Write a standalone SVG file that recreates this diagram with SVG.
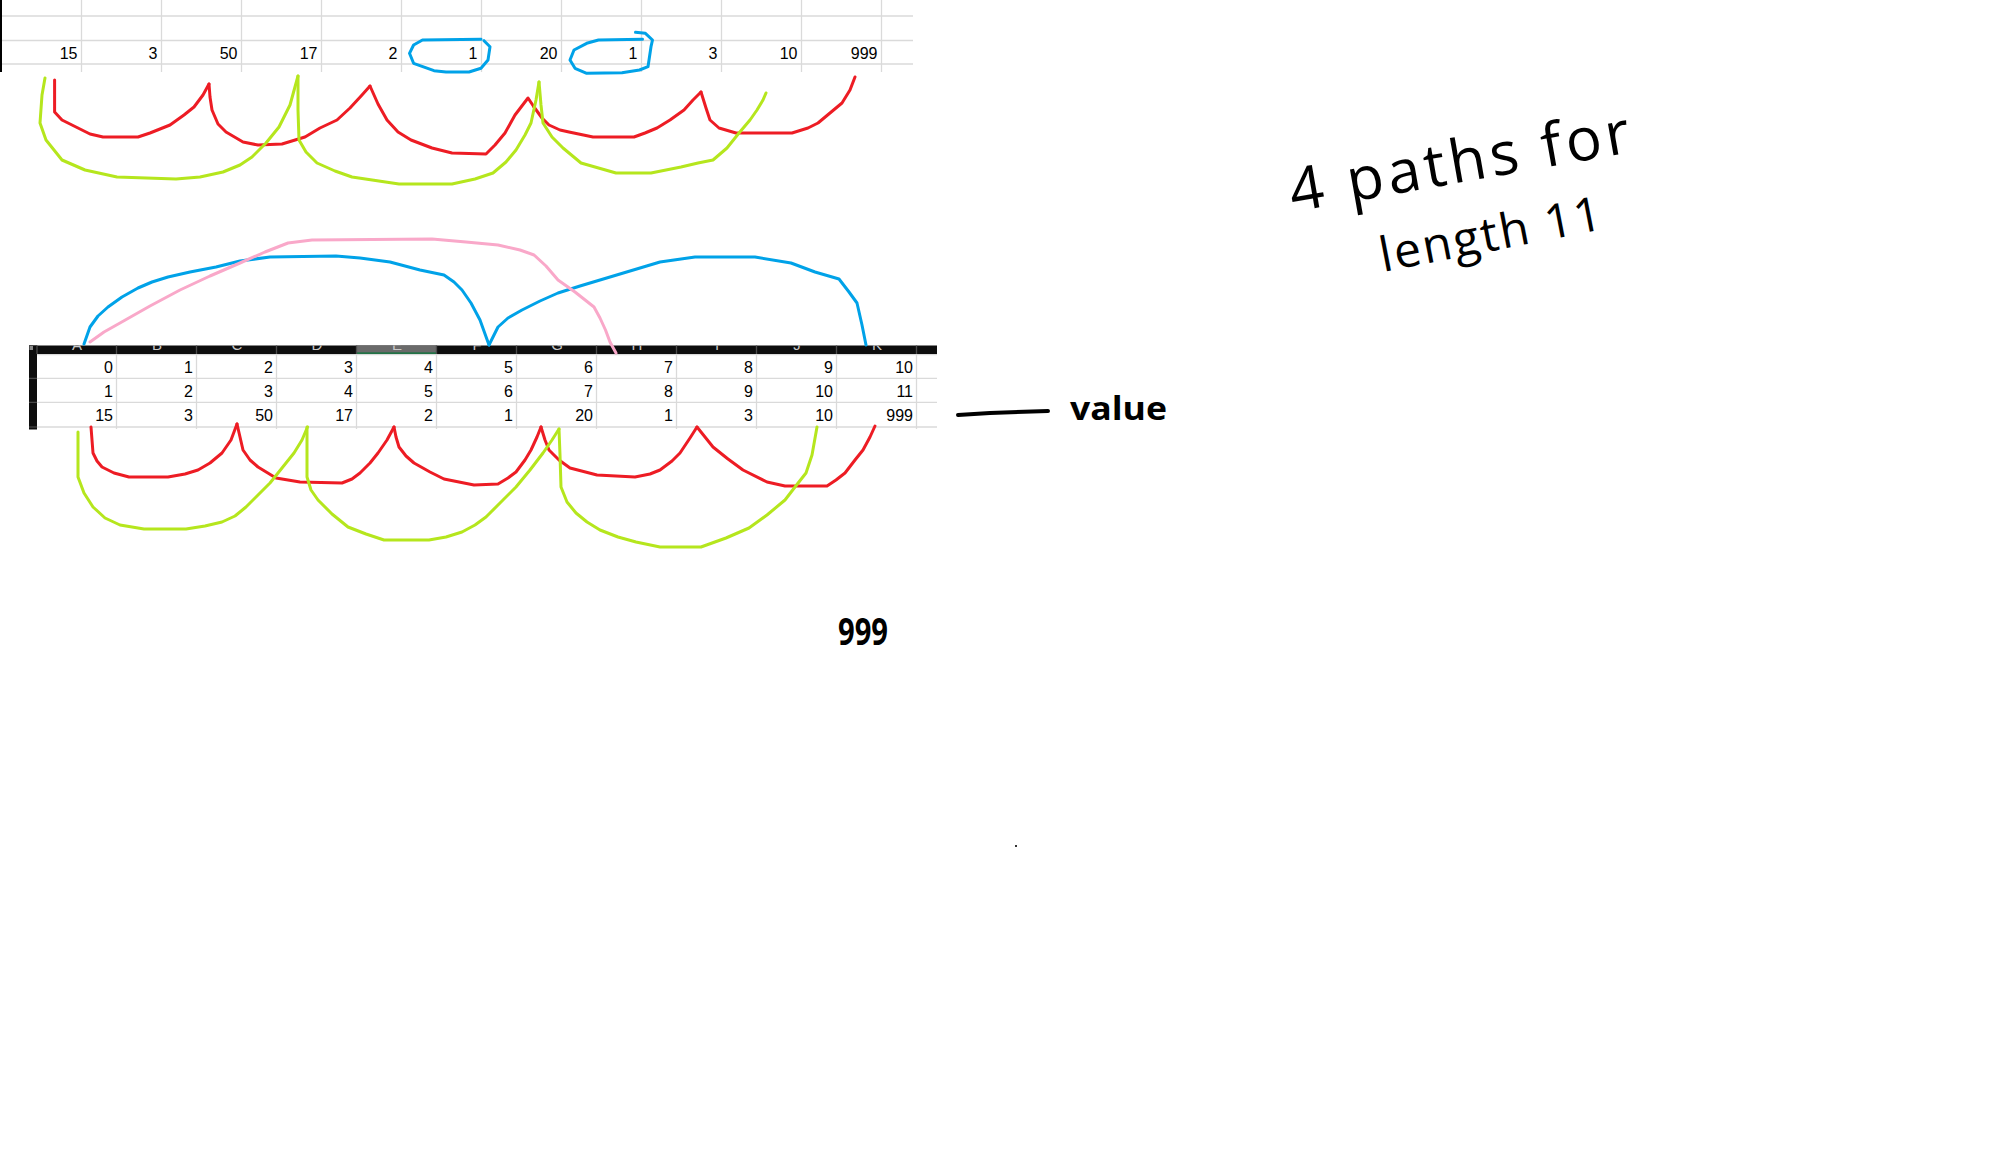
<svg xmlns="http://www.w3.org/2000/svg" width="1998" height="1156" viewBox="0 0 1998 1156">
<style>
.grid{stroke:#dadada;stroke-width:1.3;fill:none}
.num{font-family:"Liberation Sans",Arial,sans-serif;font-size:16px;fill:#000;text-anchor:end}
.hdr{font-family:"Liberation Sans",Arial,sans-serif;font-size:15px;fill:#c8c8c8;text-anchor:middle}
.hsep{stroke:#4a4a4a;stroke-width:1.3}
.c{fill:none;stroke-width:3;stroke-linejoin:round;stroke-linecap:round}
.red{stroke:#ed1c24}
.grn{stroke:#b5e61d}
.blu{stroke:#00a2e8}
.pnk{stroke:#f9a8c9}
.hand{font-family:"Open Sans","DejaVu Sans",sans-serif;fill:#000}
</style>
<defs>
<clipPath id="hdrclip"><rect x="37" y="345.5" width="900" height="8.5"/></clipPath>
</defs>
<rect width="1998" height="1156" fill="#fff"/>

<g id="top-table">
  <rect x="0" y="0" width="2" height="72" fill="#000"/>
  <path class="grid" d="M2 16H913M2 40.5H913M2 64H913M81.5 0V72M161.5 0V72M241.5 0V72M321.5 0V72M401.5 0V72M481.5 0V72M561.5 0V72M641.5 0V72M721.5 0V72M801.5 0V72M881.5 0V72"/>
  <g class="num">
    <text x="77.5" y="58.8">15</text>
    <text x="157.5" y="58.8">3</text>
    <text x="237.5" y="58.8">50</text>
    <text x="317.5" y="58.8">17</text>
    <text x="397.5" y="58.8">2</text>
    <text x="477.5" y="58.8">1</text>
    <text x="557.5" y="58.8">20</text>
    <text x="637.5" y="58.8">1</text>
    <text x="717.5" y="58.8">3</text>
    <text x="797.5" y="58.8">10</text>
    <text x="877.5" y="58.8">999</text>
  </g>
</g>

<g id="bottom-table">
  <rect x="29" y="345.5" width="908" height="8.5" fill="#0d0d0d"/>
  <rect x="357" y="345.5" width="79.5" height="8.5" fill="#6a6a6a"/>
  <rect x="357" y="352.3" width="79.5" height="1.7" fill="#217346"/>
  <rect x="29" y="345.5" width="8" height="84" fill="#0d0d0d"/>
  <rect x="29.5" y="346" width="3.5" height="4" fill="#8a8a8a"/>
  <path d="M29 378.3H37M29 402.3H37M29 427H37" stroke="#555" stroke-width="1"/>
  <path class="hsep" d="M37 345.5V354M116.5 345.5V354M196.5 345.5V354M276.5 345.5V354M356.5 345.5V354M436.5 345.5V354M516.5 345.5V354M596.5 345.5V354M676.5 345.5V354M756.5 345.5V354M836.5 345.5V354M916.5 345.5V354"/>
  <g class="hdr" clip-path="url(#hdrclip)">
    <text x="77" y="349.8">A</text>
    <text x="157" y="349.8">B</text>
    <text x="237" y="349.8">C</text>
    <text x="317" y="349.8">D</text>
    <text x="397" y="349.8">E</text>
    <text x="477" y="349.8">F</text>
    <text x="557" y="349.8">G</text>
    <text x="637" y="349.8">H</text>
    <text x="717" y="349.8">I</text>
    <text x="797" y="349.8">J</text>
    <text x="877" y="349.8">K</text>
  </g>
  <path class="grid" d="M37 354.6H937M37 378.3H937M37 402.3H937M37 427H937M116.5 354V429M196.5 354V429M276.5 354V429M356.5 354V429M436.5 354V429M516.5 354V429M596.5 354V429M676.5 354V429M756.5 354V429M836.5 354V429M916.5 354V429"/>
  <g class="num">
    <text x="113" y="373.3">0</text><text x="193" y="373.3">1</text><text x="273" y="373.3">2</text><text x="353" y="373.3">3</text><text x="433" y="373.3">4</text><text x="513" y="373.3">5</text><text x="593" y="373.3">6</text><text x="673" y="373.3">7</text><text x="753" y="373.3">8</text><text x="833" y="373.3">9</text><text x="913" y="373.3">10</text>
    <text x="113" y="397">1</text><text x="193" y="397">2</text><text x="273" y="397">3</text><text x="353" y="397">4</text><text x="433" y="397">5</text><text x="513" y="397">6</text><text x="593" y="397">7</text><text x="673" y="397">8</text><text x="753" y="397">9</text><text x="833" y="397">10</text><text x="913" y="397">11</text>
    <text x="113" y="420.8">15</text><text x="193" y="420.8">3</text><text x="273" y="420.8">50</text><text x="353" y="420.8">17</text><text x="433" y="420.8">2</text><text x="513" y="420.8">1</text><text x="593" y="420.8">20</text><text x="673" y="420.8">1</text><text x="753" y="420.8">3</text><text x="833" y="420.8">10</text><text x="913" y="420.8">999</text>
  </g>
</g>

<g id="connectors">
  <!-- blue circles on top table -->
  <path class="c blu" d="M481 39.3L422.5 40L413.6 45L409.5 53.3L413.6 63.3L434 70.7L446 72L469 72L481 68.3L488 60L490 46.7L484 40.7"/>
  <path class="c blu" d="M635.5 32.3L645.4 33.3L652.5 40L651 46.7L648 66.7L639.5 70L622 72.7L586.7 73.3L575 68.3L570 60L574 50L586.7 43.3L598.5 40L642.5 39.3"/>
  <!-- top red -->
  <path class="c red" d="M54.6 80L54.6 112L62 120L76 127L90 134L103 137L138 137L150 133L170 125L184 115L194 107L203 95L209 84"/>
  <path class="c red" d="M209 84L210 97L212 110L218 124L226 132L243 142L258 145L282 144L305 137L320 128L337 120L350 108L362 95L370 86"/>
  <path class="c red" d="M370 86L378 104L387 120L398 132L411 140L432 148L452 153L486 154L495 145L505 133L515 115L528 98L534 107"/>
  <path class="c red" d="M534 107L542 118L549 125L560 130L569 132L593 137L634 137L645 133L657 128L670 120L684 110L693 100L701 92"/>
  <path class="c red" d="M701 92L706 108L710 120L719 128L736 133L792 133L808 128L818 123L830 113L842 103L850 90L855 77"/>
  <!-- top green -->
  <path class="c grn" d="M45 78L42 95L40 123L46 140L62 160L85 170L117 177L176 179L200 177L223 172L240 165L252 157L266 143L279 127L290 105L298 76"/>
  <path class="c grn" d="M298 76L298 110L299 140L306 152L317 163L335 171L352 177L399 184L452 184L475 179L493 173L506 162L516 150L525 135L531 123L536 100L539 82"/>
  <path class="c grn" d="M539 82L541 105L543 123L552 137L563 148L581 163L616 173L651 173L681 167L698 163L713 160L727 148L739 133L750 120L757 110L763 100L766 93"/>
  <!-- middle blue and pink arcs -->
  <path class="c blu" d="M84 344L90 327L98 316L108 307L122 297L138 288L152 282L168 277L190 272L216 267L240 261L270 257L336 256L360 258L390 262L420 270L444 275L454 282L462 290L471 303L480 320L489 345"/>
  <path class="c blu" d="M489 345L498 327L508 318L522 310L540 301L558 293L580 286L600 280L630 271L660 262L695 257L755 257L791 263L815 272L839 279L849 292L857 303L862 325L866 345"/>
  <path class="c pnk" d="M90 342L104 332L120 323L150 306L180 290L210 276L240 263L265 252L288 243L312 240L432 239L466 242L498 245L520 250L534 255L546 266L558 280L575 292L594 307L600 318L605.5 330L610 342L616 353"/>
  <!-- bottom red -->
  <path class="c red" d="M91 427L92 440L93 453L97 461L102 467L114 473L129 477L168 477L185 474L198 470L210 463L222 453L231 440L237 424"/>
  <path class="c red" d="M237 424L240 437L243 450L250 460L258 467L276 478L300 482L342 483L352 479L360 473L370 463L378 453L387 440L394 427"/>
  <path class="c red" d="M394 427L396 437L399 447L406 456L414 463L430 472L444 479L474 485L498 484L508 478L516 472L525 460L531 450L537 437L541 427"/>
  <path class="c red" d="M541 427L545 440L549 450L559 460L570 468L597 475L635 477L650 474L660 470L672 461L680 453L690 438L697 427"/>
  <path class="c red" d="M697 427L705 437L713 447L728 459L743 470L767 482L785 486L827 486L836 480L845 473L855 460L863 450L870 437L875 426"/>
  <!-- bottom green -->
  <path class="c grn" d="M78 432L78 455L78 477L84 493L93 507L105 518L120 525L144 529L186 529L205 526L222 522L235 516L246 507L258 495L270 483L282 468L294 453L302 440L307.5 427"/>
  <path class="c grn" d="M307 427L307 455L307 477L311 490L318 500L332 514L348 527L366 534L384 540L429 540L446 537L462 532L475 525L486 517L500 503L516 487L530 470L543 453L552 440L559 429"/>
  <path class="c grn" d="M559 429L560 455L561 487L567 502L576 513L587 522L600 530L618 537L636 542L660 547L701 547L726 538L749 528L767 515L785 500L795 487L806 473L812 455L817 427"/>
</g>

<g id="label-value">
  <path d="M958 415L990 413L1048 411" fill="none" stroke="#000" stroke-width="4" stroke-linecap="round"/>
  <text class="hand" x="1070" y="420" font-size="33" font-weight="bold" textLength="97" lengthAdjust="spacingAndGlyphs">value</text>
</g>

<g id="label-999">
  <text class="hand" x="838" y="645" font-size="37" font-weight="bold" textLength="50" lengthAdjust="spacingAndGlyphs">999</text>
</g>

<g id="label-paths">
  <text class="hand" x="1293" y="212" font-size="60" transform="rotate(-10 1293 212)" textLength="345" lengthAdjust="spacing">4 paths for</text>
  <text class="hand" x="1383" y="272" font-size="48" transform="rotate(-11 1383 272)" textLength="225" lengthAdjust="spacing">length 11</text>
</g>

<rect id="dot" x="1015" y="845" width="2" height="2" fill="#333"/>
</svg>
